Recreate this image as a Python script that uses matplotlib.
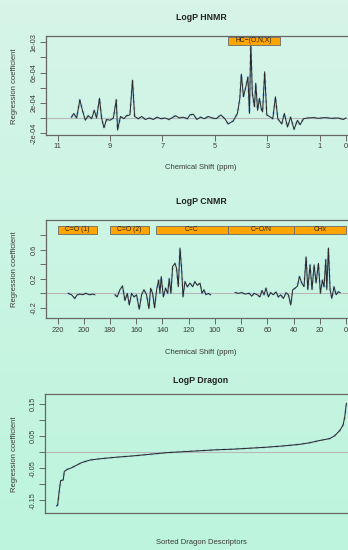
import numpy as np
import matplotlib
matplotlib.use("Agg")
import matplotlib.pyplot as plt
from matplotlib.patches import Rectangle

plt.rcParams['font.family'] = ['Liberation Sans', 'DejaVu Sans']

# ---- HNMR regression coefficients (ppm, coefficient in 1e-4) ----
h_ppm = [10.47, 10.38, 10.27, 10.15, 10.05, 9.94, 9.83, 9.70, 9.60, 9.51, 9.40, 9.32, 9.23,
         9.13, 9.00, 8.87, 8.76, 8.71, 8.60, 8.47, 8.37, 8.24, 8.14, 8.06, 7.92, 7.79, 7.65,
         7.50, 7.35, 7.20, 7.05, 6.90, 6.75, 6.60, 6.50, 6.35, 6.20, 6.05, 5.95, 5.82, 5.69,
         5.55, 5.40, 5.25, 5.10, 4.95, 4.77, 4.62, 4.49, 4.40, 4.30, 4.14, 4.05, 3.99, 3.91,
         3.82, 3.74, 3.68, 3.63, 3.57, 3.49, 3.44, 3.37, 3.30, 3.23, 3.18, 3.10, 3.02, 2.92,
         2.79, 2.69, 2.60, 2.45, 2.35, 2.23, 2.11, 1.98, 1.85, 1.75, 1.62, 1.45, 1.25, 1.05,
         0.80, 0.55, 0.30, 0.10, 0.00]
h_coef = [0.1, 0.6, 0.0, 2.4, 1.0, -0.3, 0.3, -0.1, 1.0, 0.0, 2.6, 0.0, -1.3,
          -0.2, -0.3, 0.0, 2.4, -1.6, 0.2, -0.1, 0.3, 0.4, 5.0, 0.2, -0.1, 0.2, -0.2,
          0.0, -0.2, 0.1, -0.1, 0.0, -0.2, 0.1, 0.3, 0.0, 0.1, -0.1, 0.4, 0.5, -0.2,
          0.1, -0.1, 0.2, 0.0, -0.1, 0.4, -0.1, -0.8, -0.6, -0.4, 0.6, 2.5, 5.8, 2.8,
          4.1, 5.4, 0.6, 10.0, 3.2, 1.5, 4.6, 1.0, 2.6, 1.2, 0.8, 6.1, 0.4, 0.2,
          -0.1, 2.8, -0.1, -0.8, 0.6, -1.2, 0.1, -1.5, -0.3, -0.9, -0.1, 0.0, 0.05, -0.05,
          0.05, -0.05, 0.0, -0.2, 0.0]
h_regions = [("HC\u2212(O,N,X)", 4.5, 2.5)]

# ---- CNMR regression coefficients (NaN = gap) ----
c_ppm = [211.9, 209.3, 206.8, 205.0, 203.0, 200.9, 198.4, 195.8, 193.3, 191.5, 184.0,
         176.2, 174.5, 172.4, 170.4, 168.6, 166.8, 165.3, 163.5, 161.7, 159.7, 157.7, 155.9,
         154.1, 152.1, 150.3, 149.0, 147.5, 146.0, 144.4, 142.9, 141.9, 140.9, 139.3, 137.6,
         136.0, 134.8, 133.5, 132.2, 130.4, 129.2, 127.9, 126.6, 125.3, 124.3, 122.8, 121.0,
         119.0, 116.9, 115.2, 113.4, 111.3, 109.8, 108.3, 106.8, 105.0, 103.2, 95.0,
         84.6, 82.1, 79.5, 77.0, 73.7, 71.9, 70.1, 67.6, 65.6, 64.0, 62.5, 61.0, 59.2, 57.4,
         55.4, 53.3, 51.6, 49.8, 47.7, 45.7, 43.9, 42.1, 40.6, 38.8, 37.0, 35.5, 33.7, 32.0,
         30.4, 29.1, 27.4, 25.9, 24.3, 22.8, 21.0, 19.5, 18.0, 16.7, 15.4, 14.6, 13.4, 12.1,
         10.8, 9.1, 7.5, 5.8, 4.5]
c_coef = [0.0, -0.02, -0.07, -0.02, -0.01, -0.02, 0.0, -0.02, -0.01, -0.02, np.nan,
          -0.02, -0.05, 0.05, 0.10, -0.10, 0.0, -0.16, 0.0, -0.05, -0.02, -0.22, -0.02,
          0.05, -0.02, -0.21, 0.07, 0.0, -0.20, 0.05, 0.18, 0.0, 0.23, -0.05, 0.07,
          0.0, 0.20, 0.0, 0.37, 0.41, 0.34, 0.09, 0.62, 0.32, -0.05, 0.16, 0.09,
          0.14, 0.09, 0.16, 0.11, 0.14, 0.0, 0.05, -0.02, 0.0, -0.02, np.nan,
          0.01, 0.0, 0.01, -0.01, 0.0, -0.04, 0.0, -0.02, -0.05, 0.04, -0.02, 0.07, -0.05, 0.01,
          -0.02, 0.02, -0.05, -0.02, -0.07, 0.01, -0.02, -0.16, 0.05, 0.07, 0.10, 0.23, 0.14, 0.09,
          0.50, 0.05, 0.39, 0.05, 0.39, 0.14, 0.41, 0.0, 0.18, 0.09, 0.46, 0.05, 0.62, 0.05,
          -0.07, 0.09, -0.02, 0.02, 0.01]
c_regions = [("C=O (1)", 220, 190), ("C=O (2)", 180, 150), ("C=C", 145, 90),
             ("C\u2212O/N", 90, 40), ("CHx", 40, 0)]

# ---- Dragon descriptors, sorted coefficients ----
d_rank = [0, 1.4, 3.7, 5.5, 9.2, 10.6, 13.8, 20.7, 27.6, 34.5, 46, 59.8, 82.8, 105.7, 128.7,
          151.7, 174.7, 197.7, 220.7, 243.7, 266.7, 289.7, 312.6, 335.6, 349.4, 363.2, 377,
          383.9, 390.8, 395.4, 397.7, 399, 400]
d_coef = [-0.167, -0.165, -0.12, -0.088, -0.086, -0.06, -0.054, -0.048, -0.04, -0.032, -0.024,
          -0.020, -0.015, -0.011, -0.006, -0.001, 0.002, 0.005, 0.008, 0.010, 0.013, 0.016,
          0.020, 0.025, 0.030, 0.037, 0.043, 0.052, 0.068, 0.085, 0.11, 0.135, 0.153]

W, H = 348, 550
fig = plt.figure(figsize=(W / 100, H / 100), dpi=100)

# background gradient
bg = fig.add_axes([0, 0, 1, 1], zorder=-10)
top = np.array([0.84, 0.96, 0.91])
bot = np.array([0.74, 0.96, 0.87])
t = np.linspace(0, 1, 200)[:, None, None]
bg.imshow(top * (1 - t) + bot * t, aspect='auto', extent=[0, 1, 0, 1])
bg.axis('off')

spine_col = '#666666'
txt_col = '#3a3a3a'


def px_axes(left, top_, right, bottom):
    return fig.add_axes([left / W, 1 - bottom / H, (right - left) / W, (bottom - top_) / H])


def style(ax, yticks, ylabels):
    ax.patch.set_alpha(0)
    for s in ax.spines.values():
        s.set_color(spine_col)
        s.set_linewidth(0.9)
    ax.set_yticks(yticks)
    ax.set_yticklabels(ylabels, rotation=90, va='center')
    ax.tick_params(colors=spine_col, labelcolor=txt_col, labelsize=5.3, length=4, width=0.7, pad=2)


def draw_trace(ax, x, y):
    ax.axhline(0, color='#b8b8b8', lw=0.8, zorder=1)
    ax.plot(x, y, color='#9fcfe8', lw=1.8, ls=':', zorder=2)
    ax.plot(x, y, color='#2a2a2a', lw=0.75, zorder=3)


def draw_regions(ax, regions, y0, y1):
    for label, a, b in regions:
        ax.add_patch(Rectangle((b, y0), a - b, y1 - y0, facecolor='#ffa500',
                               edgecolor='#6a6a6a', lw=0.6, zorder=4))
        ax.text((a + b) / 2, (y0 + y1) / 2, label, ha='center', va='center',
                fontsize=4.9, color='#222222', zorder=5)


def labels(title, ty, xlabel, xy, ymid):
    fig.text(201 / W, 1 - ty / H, title, ha='center', va='center', fontsize=6.3,
             fontweight='bold', color='#222222')
    fig.text(201 / W, 1 - xy / H, xlabel, ha='center', va='center', fontsize=5.5, color=txt_col)
    fig.text(14 / W, 1 - ymid / H, "Regression coefficient", ha='center', va='center',
             rotation=90, fontsize=5.5, color=txt_col)


# ---- panel 1: HNMR ----
ax1 = px_axes(46, 36, 357.5, 135)
draw_trace(ax1, h_ppm, np.array(h_coef) * 1e-4)
draw_regions(ax1, h_regions, 0.968e-3, 1.066e-3)
ax1.set_xlim(11.44, -0.44)
ax1.set_ylim(-2.25e-4, 1.083e-3)
style(ax1, np.arange(-2e-4, 1.05e-3, 2e-4),
      ['-2e-04', '', '2e-04', '', '6e-04', '', '1e-03'])
ax1.set_xticks([11, 9, 7, 5, 3, 1, 0])
labels("LogP HNMR", 17.5, "Chemical Shift (ppm)", 167.5, 86)

# ---- panel 2: CNMR ----
ax2 = px_axes(46, 220, 357.5, 318.3)
draw_trace(ax2, c_ppm, c_coef)
draw_regions(ax2, c_regions, 0.813, 0.922)
ax2.set_xlim(228.8, -8.8)
ax2.set_ylim(-0.342, 1.004)
style(ax2, [-0.2, 0.0, 0.2, 0.4, 0.6, 0.8], ['-0.2', '', '0.2', '', '0.6', ''])
ax2.set_xticks(np.arange(220, -1, -20))
labels("LogP CNMR", 201.5, "Chemical Shift (ppm)", 352, 269)

# ---- panel 3: Dragon ----
ax3 = px_axes(45, 394, 358, 513.3)
draw_trace(ax3, d_rank, d_coef)
ax3.set_xlim(-16, 416)
ax3.set_ylim(-0.19, 0.182)
style(ax3, [-0.15, -0.10, -0.05, 0.0, 0.05, 0.10, 0.15],
      ['-0.15', '', '-0.05', '', '0.05', '', '0.15'])
ax3.set_xticks([])
labels("LogP Dragon", 380.5, "Sorted Dragon Descriptors", 543, 454)

fig.savefig("out.png", dpi=100)
